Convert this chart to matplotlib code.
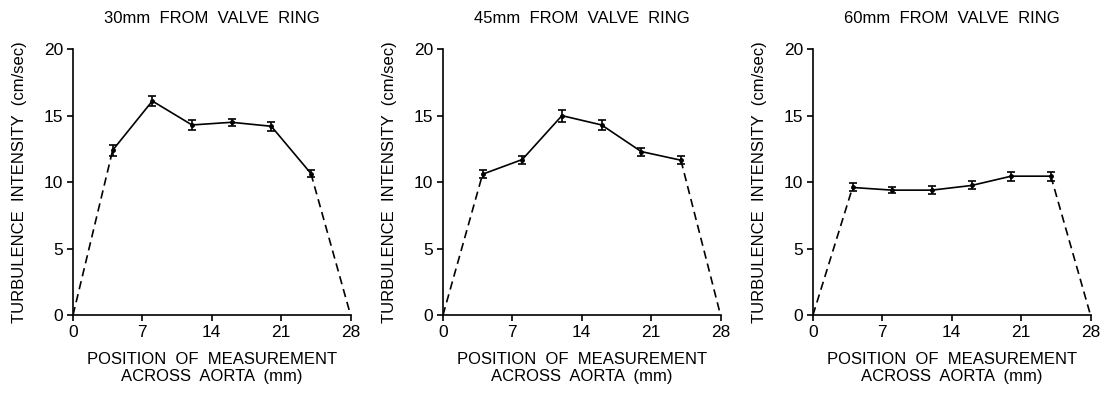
import matplotlib
matplotlib.use("Agg")
import matplotlib.pyplot as plt

# positions across the aorta (mm)
positions = [4, 8, 12, 16, 20, 24]
wall_left = 0
wall_right = 28

# turbulence intensity (cm/sec) at each distance from the valve ring
titles = ["30mm  FROM  VALVE  RING", "45mm  FROM  VALVE  RING", "60mm  FROM  VALVE  RING"]
intensity_30 = [12.4, 16.1, 14.3, 14.5, 14.2, 10.65]
intensity_45 = [10.6, 11.7, 15.0, 14.3, 12.3, 11.65]
intensity_60 = [9.6, 9.4, 9.4, 9.75, 10.45, 10.45]
err_30 = [0.4, 0.4, 0.4, 0.25, 0.35, 0.3]
err_45 = [0.3, 0.3, 0.45, 0.4, 0.3, 0.3]
err_60 = [0.3, 0.25, 0.3, 0.3, 0.35, 0.35]

series = [intensity_30, intensity_45, intensity_60]
errors = [err_30, err_45, err_60]

plt.rcParams['font.family'] = ['Liberation Sans', 'DejaVu Sans']

fig = plt.figure(figsize=(11.06, 3.93), dpi=100)
lefts = [0.066, 0.4005, 0.735]

for i in range(3):
    ax = fig.add_axes([lefts[i], 0.198, 0.251, 0.677])
    y = series[i]
    # dashed extrapolation to the walls
    ax.plot([wall_left, positions[0]], [0, y[0]], '--', color='black', lw=1.2, dashes=(5, 3))
    ax.plot([positions[-1], wall_right], [y[-1], 0], '--', color='black', lw=1.2, dashes=(5, 3))
    ax.errorbar(positions, y, yerr=errors[i], fmt='-o', color='black', lw=1.2,
                ms=2.5, capsize=3, elinewidth=1.2, capthick=1.2)

    ax.set_xlim(0, 28)
    ax.set_ylim(0, 20)
    ax.set_xticks([0, 7, 14, 21, 28])
    ax.set_yticks([0, 5, 10, 15, 20])
    ax.spines['top'].set_visible(False)
    ax.spines['right'].set_visible(False)
    ax.spines['left'].set_linewidth(1.2)
    ax.spines['bottom'].set_linewidth(1.2)
    ax.tick_params(direction='out', length=4, width=1.2, labelsize=12.5, pad=3)
    ax.set_title(titles[i], fontsize=12, pad=19)
    ax.set_xlabel("POSITION  OF  MEASUREMENT\nACROSS  AORTA  (mm)", fontsize=12,
                  linespacing=1.15, labelpad=9)
    ax.set_ylabel("TURBULENCE  INTENSITY  (cm/sec)", fontsize=12, labelpad=12)

fig.savefig("out.png", dpi=100)
